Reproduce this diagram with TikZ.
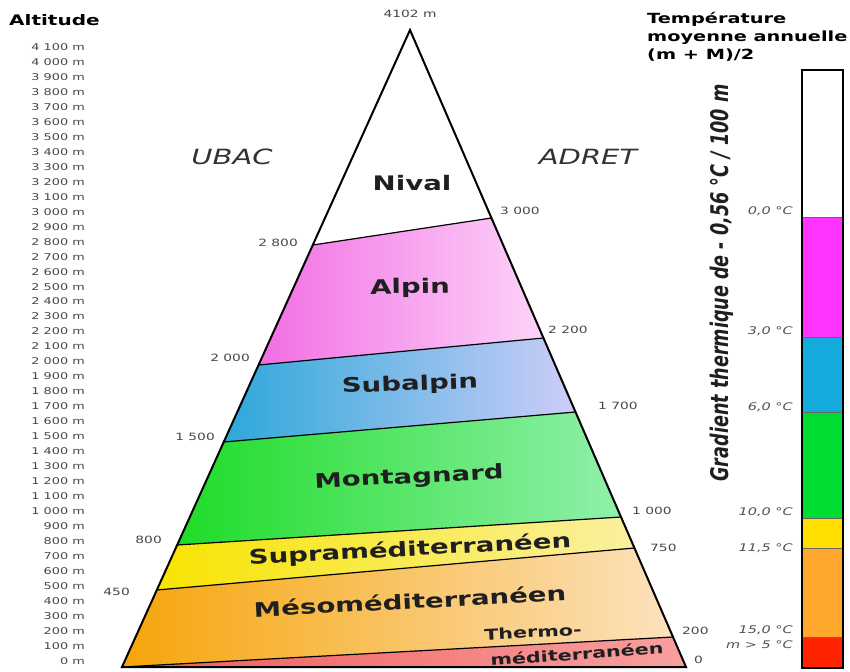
\documentclass[tikz,border=0pt]{standalone}
\usepackage{fontspec}
\usepackage{graphicx}
\setmainfont{DejaVu Sans}[FakeStretch=1.38]
\newfontfamily\plainsans{DejaVu Sans}
\definecolor{alpL}{RGB}{242,110,228}
\definecolor{alpR}{RGB}{252,212,248}
\definecolor{subL}{RGB}{45,168,218}
\definecolor{subR}{RGB}{205,205,248}
\definecolor{monL}{RGB}{30,220,40}
\definecolor{monR}{RGB}{145,240,170}
\definecolor{supL}{RGB}{248,228,0}
\definecolor{supR}{RGB}{250,240,160}
\definecolor{mesL}{RGB}{246,165,10}
\definecolor{mesR}{RGB}{252,226,190}
\definecolor{thL}{RGB}{240,90,90}
\definecolor{thR}{RGB}{248,160,160}
\definecolor{barM}{RGB}{255,50,255}
\definecolor{barC}{RGB}{20,170,220}
\definecolor{barG}{RGB}{0,220,50}
\definecolor{barY}{RGB}{255,222,0}
\definecolor{barO}{RGB}{255,168,45}
\definecolor{barR}{RGB}{255,35,0}
\begin{document}
\begin{tikzpicture}[x=1pt,y=-1pt,
  zone/.style={font=\bfseries\fontsize{20}{24}\selectfont, text=black!88, inner sep=0},
  smallzone/.style={font=\bfseries\fontsize{15}{18}\selectfont, text=black!88, inner sep=0},
  altlab/.style={font=\fontsize{9.3}{10}\selectfont, text=black!72, anchor=east, inner sep=0},
  sidelab/.style={font=\fontsize{10}{12}\selectfont, text=black!72, inner sep=0},
  templab/.style={font=\itshape\fontsize{10.5}{12}\selectfont, text=black!68, anchor=east, inner sep=0},
  bound/.style={draw=black, line width=1.2pt},
  outline/.style={draw=black, line width=2pt, line join=miter}]
\useasboundingbox (0,0) rectangle (850,671);
\fill[white] (0,0) rectangle (850,671);

% pyramid points
\coordinate (A) at (410,30);
\coordinate (BL) at (122,667);
\coordinate (BR) at (686,667);
\coordinate (L1) at (312.8,245);
\coordinate (L2) at (258.5,365);
\coordinate (L3) at (223.7,442);
\coordinate (L4) at (177.2,545);
\coordinate (L5) at (156.8,590);
\coordinate (R1) at (491.5,218);
\coordinate (R2) at (543.5,338);
\coordinate (R3) at (575.5,412);
\coordinate (R4) at (621,517);
\coordinate (R5) at (634.5,548);
\coordinate (R6) at (673,637);

% bands
\shade[left color=alpL, right color=alpR] (L1) -- (R1) -- (R2) -- (L2) -- cycle;
\shade[left color=subL, right color=subR] (L2) -- (R2) -- (R3) -- (L3) -- cycle;
\shade[left color=monL, right color=monR] (L3) -- (R3) -- (R4) -- (L4) -- cycle;
\shade[left color=supL, right color=supR] (L4) -- (R4) -- (R5) -- (L5) -- cycle;
\shade[left color=mesL, right color=mesR] (L5) -- (R5) -- (R6) -- (BL) -- cycle;
\shade[left color=thL, right color=thR] (BL) -- (R6) -- (BR) -- cycle;

\draw[bound] (L1) -- (R1);
\draw[bound] (L2) -- (R2);
\draw[bound] (L3) -- (R3);
\draw[bound] (L4) -- (R4);
\draw[bound] (L5) -- (R5);
\draw[bound] (BL) -- (R6);
\draw[outline] (A) -- (BR) -- (BL) -- cycle;

% zone labels
\node[zone] (nival) at (412,183) {Nival};
\node[zone, rotate=1] (alpin) at (410,288) {Alpin};
\node[zone, rotate=2] (subalpin) at (410,385) {Subalpin};
\node[zone, rotate=3] (montagnard) at (409,478) {Montagnard};
\node[zone, rotate=3] (supra) at (410,550) {Supraméditerranéen};
\node[zone, rotate=3] (meso) at (410,601) {Mésoméditerranéen};
\node[smallzone, rotate=3] (thermo) at (533,632) {Thermo-};
\node[smallzone, rotate=4] (thermo2) at (577,654) {méditerranéen};

% top label
\node[sidelab] (summit) at (410,14) {4102 m};

% side altitude labels
\node[sidelab, anchor=east] (l2800) at (298,243) {2 800};
\node[sidelab, anchor=east] (l2000) at (250,358) {2 000};
\node[sidelab, anchor=east] (l1500) at (215,437) {1 500};
\node[sidelab, anchor=east] (l800) at (162,540) {800};
\node[sidelab, anchor=east] (l450) at (130,592) {450};
\node[sidelab, anchor=west] (r3000) at (500,211) {3 000};
\node[sidelab, anchor=west] (r2200) at (548,330) {2 200};
\node[sidelab, anchor=west] (r1700) at (598,406) {1 700};
\node[sidelab, anchor=west] (r1000) at (632,511) {1 000};
\node[sidelab, anchor=west] (r750) at (650,548) {750};
\node[sidelab, anchor=west] (r200) at (682,631) {200};
\node[sidelab, anchor=west] (r0) at (694,660) {0};

% UBAC / ADRET
\node[font=\itshape\fontsize{21}{24}\selectfont, text=black!80] (ubac) at (232,157) {UBAC};
\node[font=\itshape\fontsize{21}{24}\selectfont, text=black!80] (adret) at (588,157) {ADRET};

% altitude axis
\node[font=\bfseries\fontsize{14.5}{16}\selectfont, anchor=west, inner sep=0] (alttitle) at (9,20) {Altitude};
\foreach \t [count=\i from 0] in {4 100,4 000,3 900,3 800,3 700,3 600,3 500,3 400,3 300,3 200,3 100,3 000,2 900,2 800,2 700,2 600,2 500,2 400,2 300,2 200,2 100,2 000,1 900,1 800,1 700,1 600,1 500,1 400,1 300,1 200,1 100,1 000,900,800,700,600,500,400,300,200,100,0}
  \node[altlab] (alt\i) at (85,{47+14.976*\i}) {\t\ m};

% temperature title
\node[font=\bfseries\fontsize{14}{18}\selectfont, anchor=north west, align=left, inner sep=0] (ttitle) at (647,12) {Température\\moyenne annuelle\\(m + M)/2};

% color bar
\fill[white] (802,70) rectangle (843,217);
\fill[barM] (802,217) rectangle (843,337);
\fill[barC] (802,337) rectangle (843,412);
\fill[barG] (802,412) rectangle (843,518);
\fill[barY] (802,518) rectangle (843,548);
\fill[barO] (802,548) rectangle (843,637);
\fill[barR] (802,637) rectangle (843,668);
\draw[line width=0.4pt, black!60] (802,217) -- (843,217) (802,337) -- (843,337) (802,412) -- (843,412) (802,518) -- (843,518) (802,548) -- (843,548) (802,637) -- (843,637);
\draw[line width=1.6pt] (802,70) rectangle (843,668);

% temperature labels
\node[templab] (t0) at (793,211) {0,0 °C};
\node[templab] (t3) at (793,331) {3,0 °C};
\node[templab] (t6) at (793,407) {6,0 °C};
\node[templab] (t10) at (793,512) {10,0 °C};
\node[templab] (t11) at (793,548) {11,5 °C};
\node[templab] (t15) at (793,630) {15,0 °C};
\node[templab] (tm) at (793,645) {\textit{m} > 5 °C};

% gradient vertical text
\node[rotate=90, inner sep=0, text=black!88] (grad) at (722,283) {\scalebox{1}[1.38]{\plainsans\bfseries\itshape\fontsize{17.6}{20}\selectfont Gradient thermique de - 0,56 °C / 100 m}};
\end{tikzpicture}
\end{document}
